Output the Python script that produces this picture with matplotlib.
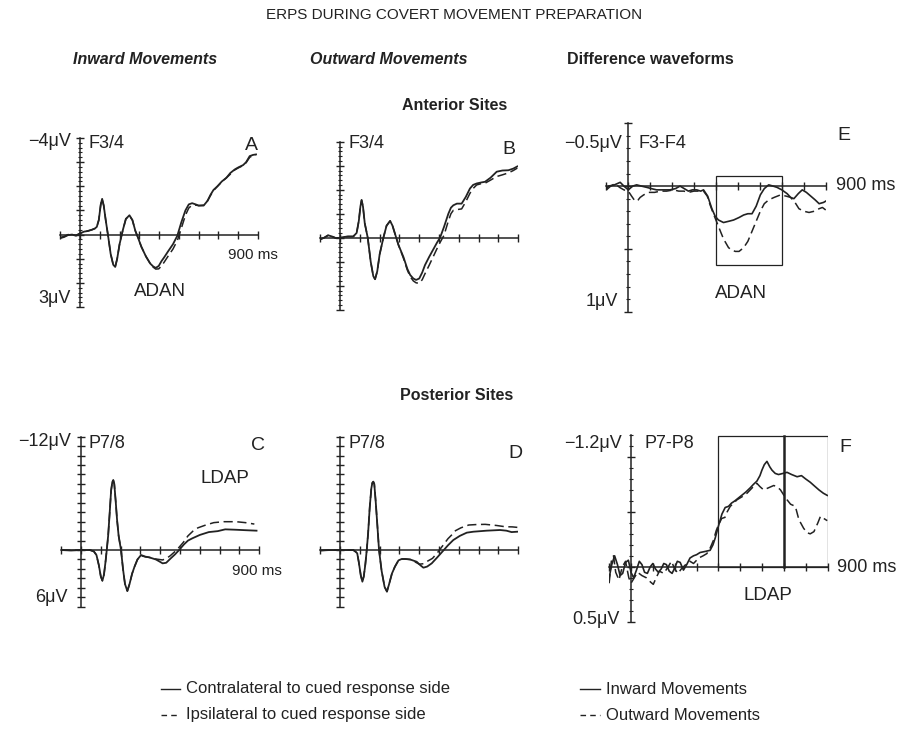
import numpy as np
import matplotlib.pyplot as plt
from matplotlib.patches import Rectangle
from matplotlib.lines import Line2D
from matplotlib.ticker import MultipleLocator

plt.rcParams['font.family'] = ['Liberation Sans', 'DejaVu Sans']

W, H = 909, 736
INK = '#222222'

# ---- A: F3/4, inward movements (uV, negative plotted up) ----
a_t = [-100, -80, -60, -40, -20, 0, 20, 40, 60, 75, 85, 95, 105, 112, 120,
       130, 142, 155, 168, 178, 188, 200, 217, 232, 250, 265, 280, 292, 310, 333,
       355, 370, 383, 398, 412, 425, 445, 470, 492, 512, 533, 550, 567, 585, 600,
       625, 645, 660, 675, 695, 717, 740, 760, 783, 800, 825, 840, 858, 875, 890]
a_contra = [0.15, 0.10, 0.02, 0.00, 0.05, -0.05, -0.12, -0.15, -0.20, -0.25,
            -0.32, -0.60, -1.25, -1.48, -1.20, -0.60, 0.05, 0.80, 1.25, 1.34,
            1.00, 0.40, -0.20, -0.65, -0.80, -0.60, -0.15, 0.10, 0.50, 0.90,
            1.20, 1.32, 1.38, 1.30, 1.10, 0.95, 0.70, 0.40, 0.05, -0.50,
            -1.00, -1.25, -1.30, -1.25, -1.20, -1.20, -1.40, -1.65, -1.85, -2.00,
            -2.20, -2.35, -2.55, -2.70, -2.78, -2.88, -3.00, -3.25, -3.30, -3.32]
a_ipsi = [0.12, 0.08, 0.00, 0.02, 0.03, -0.05, -0.10, -0.15, -0.20, -0.25,
          -0.33, -0.60, -1.25, -1.47, -1.20, -0.60, 0.05, 0.80, 1.25, 1.34,
          1.00, 0.40, -0.20, -0.65, -0.78, -0.60, -0.15, 0.10, 0.50, 0.90,
          1.20, 1.35, 1.43, 1.42, 1.30, 1.15, 0.90, 0.60, 0.25, -0.25,
          -0.80, -1.10, -1.22, -1.22, -1.20, -1.22, -1.40, -1.62, -1.82, -2.00,
          -2.18, -2.35, -2.50, -2.68, -2.76, -2.86, -2.98, -3.20, -3.28, -3.30]

# ---- B: F3/4, outward movements ----
b_t = [-100, -80, -60, -40, -20, 0, 20, 40, 67, 84, 95, 103, 109, 116, 125,
       140, 155, 168, 177, 188, 200, 219, 235, 253, 265, 280, 295, 320, 340, 354,
       370, 384, 400, 415, 429, 450, 470, 490, 505, 525, 547, 560, 572, 590, 614,
       635, 656, 672, 690, 712, 732, 760, 791, 820, 850, 875, 895]
b_contra = [0.07, 0.00, -0.10, -0.05, 0.02, 0.00, -0.03, -0.05, -0.05, -0.20,
            -0.70, -1.30, -1.57, -1.30, -0.60, 0.00, 1.00, 1.60, 1.73, 1.40,
            0.70, 0.00, -0.50, -0.70, -0.50, -0.10, 0.30, 0.80, 1.30, 1.55,
            1.70, 1.76, 1.70, 1.45, 1.14, 0.80, 0.50, 0.20, 0.00, -0.45,
            -1.00, -1.25, -1.35, -1.42, -1.42, -1.70, -2.05, -2.20, -2.26, -2.30,
            -2.33, -2.50, -2.75, -2.80, -2.81, -2.88, -2.97]
b_ipsi = [0.07, 0.00, -0.10, -0.05, 0.02, 0.00, -0.03, -0.05, -0.05, -0.20,
          -0.70, -1.30, -1.57, -1.30, -0.60, 0.00, 1.00, 1.60, 1.73, 1.40,
          0.70, 0.00, -0.50, -0.70, -0.50, -0.10, 0.30, 0.85, 1.35, 1.62,
          1.80, 1.88, 1.90, 1.75, 1.50, 1.15, 0.80, 0.45, 0.20, -0.10,
          -0.70, -1.00, -1.14, -1.17, -1.20, -1.50, -1.85, -2.05, -2.20, -2.25,
          -2.27, -2.40, -2.55, -2.62, -2.70, -2.80, -2.90]

# ---- C: P7/8, inward movements ----
c_t_contra = [-100, -50, 0, 45, 65, 78, 90, 100, 108, 116, 124, 130, 137, 145, 152,
              158, 163, 168, 175, 182, 190, 202, 212, 222, 234, 245, 258, 270, 285, 303,
              325, 345, 378, 395, 412, 430, 453, 475, 495, 520, 540, 562, 600, 645, 690,
              728, 780, 830, 886]
c_contra = [0.00, 0.05, 0.00, 0.00, 0.15, 0.53, 1.60, 2.80, 3.25, 2.60,
            1.20, 0.00, -1.50, -4.00, -6.30, -7.20, -7.40, -7.00, -5.20, -3.20,
            -1.50, 0.00, 2.00, 3.60, 4.34, 3.60, 2.50, 1.77, 1.00, 0.53,
            0.70, 0.78, 1.00, 1.20, 1.41, 1.35, 0.88, 0.45, 0.00, -0.60,
            -1.00, -1.24, -1.60, -1.90, -2.00, -2.19, -2.15, -2.10, -2.05]
c_t_ipsi = [-100, -50, 0, 45, 65, 78, 90, 100, 108, 116, 124, 130, 137, 145, 152,
            158, 163, 168, 175, 182, 190, 202, 212, 222, 234, 245, 258, 270, 285, 303,
            325, 345, 378, 412, 430, 449, 483, 516, 540, 565, 590, 630, 670, 720, 783,
            830, 875]
c_ipsi = [0.00, 0.03, 0.00, 0.00, 0.15, 0.53, 1.60, 2.80, 3.25, 2.60,
          1.20, 0.00, -1.50, -4.00, -6.30, -7.20, -7.40, -7.00, -5.20, -3.20,
          -1.50, 0.00, 2.00, 3.60, 4.34, 3.60, 2.50, 1.77, 1.00, 0.60,
          0.72, 0.78, 0.95, 1.05, 0.90, 0.63, 0.00, -0.80, -1.50, -2.00,
          -2.35, -2.65, -2.90, -3.00, -3.00, -2.90, -2.75]

# ---- D: P7/8, outward movements ----
d_t_contra = [-100, -50, 0, 67, 80, 87, 95, 105, 113, 120, 128, 135, 142, 150, 158,
              163, 168, 173, 180, 188, 197, 210, 225, 237, 248, 262, 277, 295, 311, 330,
              354, 387, 405, 421, 440, 463, 490, 521, 545, 572, 605, 640, 673, 740, 808,
              840, 866, 895]
d_contra = [0.05, 0.00, 0.00, 0.00, 0.20, 0.35, 1.30, 2.70, 3.35, 2.80,
            1.50, 0.00, -1.80, -4.50, -6.50, -7.10, -7.24, -7.00, -5.20, -2.80,
            0.00, 2.20, 3.90, 4.40, 3.60, 2.50, 1.77, 1.10, 0.95, 0.95,
            1.00, 1.24, 1.60, 1.87, 1.75, 1.41, 0.80, 0.07, -0.50, -1.06,
            -1.50, -1.84, -1.94, -2.05, -2.12, -2.05, -1.90, -1.94]
d_t_ipsi = [-100, -50, 0, 67, 80, 87, 95, 105, 113, 120, 128, 135, 142, 150, 158,
            163, 168, 173, 180, 188, 197, 210, 225, 237, 248, 262, 277, 295, 311, 330,
            354, 387, 400, 421, 440, 467, 495, 521, 545, 572, 583, 610, 650, 690, 733,
            790, 833, 870, 895]
d_ipsi = [0.05, 0.00, 0.00, 0.00, 0.20, 0.35, 1.30, 2.70, 3.35, 2.80,
          1.50, 0.00, -1.80, -4.50, -6.50, -7.10, -7.24, -7.00, -5.20, -2.80,
          0.00, 2.20, 3.90, 4.40, 3.60, 2.50, 1.77, 1.10, 0.95, 0.95,
          1.00, 1.35, 1.50, 1.45, 1.20, 0.88, 0.20, -0.53, -1.20, -1.77,
          -2.05, -2.35, -2.65, -2.70, -2.72, -2.60, -2.47, -2.45, -2.40]

# ---- E: F3-F4 difference waveforms ----
e_t_in = [-100, -90, -63, -50, -37, -20, 0, 20, 38, 60, 84, 105, 129, 160, 190,
          215, 236, 255, 274, 292, 312, 330, 343, 362, 381, 396, 411, 434, 458, 480,
          505, 526, 545, 564, 583, 602, 620, 640, 660, 678, 700, 724, 740, 755, 775,
          793, 812, 832, 852, 870, 890, 900]
e_in = [0.02, 0.00, -0.01, -0.02, -0.03, 0.00, 0.03, 0.00, -0.01, 0.00,
        0.01, 0.02, 0.03, 0.03, 0.03, 0.02, 0.00, 0.02, 0.04, 0.03,
        0.03, 0.04, 0.03, 0.08, 0.18, 0.24, 0.27, 0.29, 0.28, 0.27,
        0.25, 0.23, 0.22, 0.22, 0.16, 0.07, 0.02, -0.01, 0.00, 0.01,
        0.03, 0.06, 0.09, 0.10, 0.06, 0.03, 0.05, 0.08, 0.11, 0.14,
        0.13, 0.12]
e_t_out = [-100, -80, -60, -40, -20, 0, 15, 31, 45, 54, 70, 92, 120, 146, 175,
           207, 230, 253, 275, 299, 320, 343, 360, 373, 388, 404, 420, 434, 457, 472,
           488, 505, 526, 545, 564, 583, 602, 620, 640, 665, 694, 720, 740, 760, 778,
           800, 824, 848, 870, 885, 900]
e_out = [0.03, 0.00, -0.02, 0.01, 0.03, 0.04, 0.08, 0.12, 0.11, 0.09,
         0.07, 0.05, 0.05, 0.04, 0.04, 0.03, 0.04, 0.04, 0.05, 0.04,
         0.04, 0.04, 0.08, 0.15, 0.22, 0.29, 0.36, 0.42, 0.49, 0.51,
         0.52, 0.52, 0.49, 0.44, 0.36, 0.28, 0.20, 0.14, 0.11, 0.09,
         0.07, 0.08, 0.09, 0.13, 0.18, 0.20, 0.21, 0.20, 0.18, 0.17,
         0.19]

# ---- F: P7-P8 difference waveforms ----
f_t_in = [-100, -88, -75, -62, -50, -38, -25, -12, 0, 12, 25, 38, 50, 62, 75,
          88, 100, 112, 125, 138, 150, 162, 175, 188, 200, 212, 225, 240, 255, 270,
          286, 300, 316, 340, 362, 375, 385, 400, 416, 431, 446, 460, 475, 500, 525,
          546, 560, 576, 590, 599, 610, 622, 635, 645, 660, 675, 695, 714, 735, 760,
          780, 799, 820, 837, 860, 880, 898]
f_in = [0.10, -0.02, -0.10, -0.02, 0.08, 0.06, -0.04, -0.06, 0.05, 0.10,
        0.03, -0.05, -0.02, 0.05, 0.06, 0.00, -0.03, 0.02, 0.05, 0.02,
        -0.03, -0.02, 0.04, 0.06, 0.01, -0.05, -0.04, 0.03, -0.02, -0.08,
        -0.10, -0.11, -0.13, -0.14, -0.15, -0.20, -0.26, -0.37, -0.48, -0.54,
        -0.55, -0.58, -0.60, -0.64, -0.68, -0.72, -0.75, -0.78, -0.83, -0.88,
        -0.93, -0.96, -0.91, -0.88, -0.85, -0.84, -0.85, -0.86, -0.84, -0.82,
        -0.83, -0.80, -0.77, -0.74, -0.70, -0.67, -0.65]
f_t_out = [-100, -90, -80, -70, -55, -40, -25, -10, 0, 15, 30, 50, 70, 90, 102,
           115, 130, 150, 170, 185, 200, 215, 230, 250, 270, 286, 310, 330, 347, 362,
           377, 390, 400, 415, 430, 440, 454, 470, 485, 510, 531, 555, 576, 590, 607,
           630, 653, 668, 684, 700, 714, 730, 752, 768, 790, 806, 820, 837, 855, 867,
           882, 898]
f_out = [0.15, -0.05, -0.10, 0.05, 0.12, 0.00, -0.05, 0.10, 0.15, 0.10,
         0.05, 0.08, 0.10, 0.14, 0.16, 0.10, 0.04, 0.06, 0.00, -0.05,
         0.02, 0.06, 0.02, -0.02, -0.05, -0.03, -0.08, -0.10, -0.12, -0.17,
         -0.24, -0.33, -0.38, -0.44, -0.45, -0.50, -0.55, -0.58, -0.61, -0.64,
         -0.67, -0.72, -0.76, -0.73, -0.70, -0.72, -0.74, -0.73, -0.70, -0.65,
         -0.61, -0.57, -0.55, -0.43, -0.35, -0.31, -0.30, -0.32, -0.40, -0.46,
         -0.44, -0.42]

DASH = (0, (6, 3))


def ptext(fig, x, y, s, **kw):
    kw.setdefault('ha', 'center')
    kw.setdefault('va', 'center')
    kw.setdefault('color', INK)
    fig.text(x / W, 1 - y / H, s, **kw)


def panel(fig, x0, x900, ytop, ybot, vtop, vbot, ymaj, ymin):
    # x0/x900: pixel column of 0 and 900 ms; ytop/ybot: pixel rows of vtop/vbot
    step = (x900 - x0) / 900.0
    left = x0 - 100 * step
    ax = fig.add_axes([left / W, 1 - ybot / H, (x900 - left) / W, (ybot - ytop) / H])
    ax.set_xlim(-100, 900)
    ax.set_ylim(vbot, vtop)
    ax.patch.set_visible(False)
    for s in ['top', 'right']:
        ax.spines[s].set_visible(False)
    for s in ['left', 'bottom']:
        ax.spines[s].set_position(('data', 0))
        ax.spines[s].set_color(INK)
        ax.spines[s].set_linewidth(1.1)
    ax.xaxis.set_major_locator(MultipleLocator(100))
    ax.yaxis.set_major_locator(MultipleLocator(ymaj))
    ax.yaxis.set_minor_locator(MultipleLocator(ymin))
    ax.tick_params(which='major', direction='inout', length=6, width=1.0,
                   colors=INK, labelbottom=False, labelleft=False)
    ax.tick_params(which='minor', direction='inout', length=3, width=0.8, colors=INK)
    return ax


fig = plt.figure(figsize=(W / 100, H / 100), dpi=100)

axA = panel(fig, 80, 258, 138, 307, -4, 3, 1, 0.2)
axA.plot(a_t, a_contra, color=INK, lw=1.3)
axA.plot(a_t, a_ipsi, color=INK, lw=1.1, ls=DASH)

axB = panel(fig, 340, 518.3, 141.7, 309.7, -4, 3, 1, 0.2)
axB.plot(b_t, b_contra, color=INK, lw=1.3)
axB.plot(b_t, b_ipsi, color=INK, lw=1.1, ls=DASH)

axE = panel(fig, 628.3, 825.7, 123.3, 311.7, -0.5, 1.0, 0.5, 0.1)
axE.plot(e_t_in, e_in, color=INK, lw=1.2)
axE.plot(e_t_out, e_out, color=INK, lw=1.1, ls=DASH)
axE.add_patch(Rectangle((400, -0.08), 300, 0.71, fill=False, ec=INK, lw=0.9))

axC = panel(fig, 81, 259.3, 436.7, 606.7, -12, 6, 1, 1)
axC.plot(c_t_contra, c_contra, color=INK, lw=1.3)
axC.plot(c_t_ipsi, c_ipsi, color=INK, lw=1.1, ls=DASH)

axD = panel(fig, 340, 518.3, 436.7, 606.7, -12, 6, 1, 1)
axD.plot(d_t_contra, d_contra, color=INK, lw=1.3)
axD.plot(d_t_ipsi, d_ipsi, color=INK, lw=1.1, ls=DASH)

axF = panel(fig, 631, 827.7, 435, 621.7, -1.2, 0.5, 0.5, 0.1)
axF.plot(f_t_in, f_in, color=INK, lw=1.2)
axF.plot(f_t_out, f_out, color=INK, lw=1.1, ls=DASH)
axF.add_patch(Rectangle((400, -1.19), 500, 1.19, fill=False, ec=INK, lw=0.9))
axF.plot([700, 700], [0, -1.19], color=INK, lw=1.8)

# headings
ptext(fig, 454, 15, 'ERPS DURING COVERT MOVEMENT PREPARATION', size=11)
ptext(fig, 145, 60, 'Inward Movements', size=11.5, weight='bold', style='italic')
ptext(fig, 389, 60, 'Outward Movements', size=11.5, weight='bold', style='italic')
ptext(fig, 650, 60, 'Difference waveforms', size=11.5, weight='bold')
ptext(fig, 455, 105, 'Anterior Sites', size=11.5, weight='bold')
ptext(fig, 457, 395, 'Posterior Sites', size=11.5, weight='bold')

# panel labels
ptext(fig, 71, 141, '\u22124\u03bcV', ha='right', size=13)
ptext(fig, 89, 143, 'F3/4', ha='left', size=13)
ptext(fig, 251, 145, 'A', size=14)
ptext(fig, 228, 255, '900 ms', ha='left', size=11)
ptext(fig, 160, 292, 'ADAN', size=13.5)
ptext(fig, 71, 298, '3\u03bcV', ha='right', size=13)

ptext(fig, 349, 143, 'F3/4', ha='left', size=13)
ptext(fig, 509, 150, 'B', size=14)

ptext(fig, 622, 143, '\u22120.5\u03bcV', ha='right', size=13)
ptext(fig, 638, 144, 'F3-F4', ha='left', size=13)
ptext(fig, 844, 135, 'E', size=14)
ptext(fig, 836, 185, '900 ms', ha='left', size=13)
ptext(fig, 741, 294, 'ADAN', size=13.5)
ptext(fig, 618, 302, '1\u03bcV', ha='right', size=13)

ptext(fig, 71, 441, '\u221212\u03bcV', ha='right', size=13)
ptext(fig, 89, 443, 'P7/8', ha='left', size=13)
ptext(fig, 258, 446, 'C', size=14)
ptext(fig, 225, 478, 'LDAP', size=13.5)
ptext(fig, 232, 571, '900 ms', ha='left', size=11)
ptext(fig, 68, 597, '6\u03bcV', ha='right', size=13)

ptext(fig, 349, 443, 'P7/8', ha='left', size=13)
ptext(fig, 515, 453, 'D', size=14)

ptext(fig, 622, 443, '\u22121.2\u03bcV', ha='right', size=13)
ptext(fig, 645, 443, 'P7-P8', ha='left', size=13)
ptext(fig, 845, 447, 'F', size=14)
ptext(fig, 837, 568, '900 ms', ha='left', size=13)
ptext(fig, 768, 596, 'LDAP', size=13.5)
ptext(fig, 620, 620, '0.5\u03bcV', ha='right', size=13)

# legends
legend_rows = [(161, 180, 186, 689, '-', 'Contralateral to cued response side'),
               (161, 180, 186, 715, (0, (4, 3)), 'Ipsilateral to cued response side'),
               (580, 600, 606, 689, '-', 'Inward Movements'),
               (580, 600, 606, 715, (0, (4, 3)), 'Outward Movements')]
for x1, x2, xt, y, ls, label in legend_rows:
    fig.add_artist(Line2D([x1 / W, x2 / W], [1 - y / H, 1 - y / H], color=INK, lw=1.0, ls=ls))
    ptext(fig, xt, y, label, ha='left', size=12)

fig.savefig('out.png', dpi=100)
